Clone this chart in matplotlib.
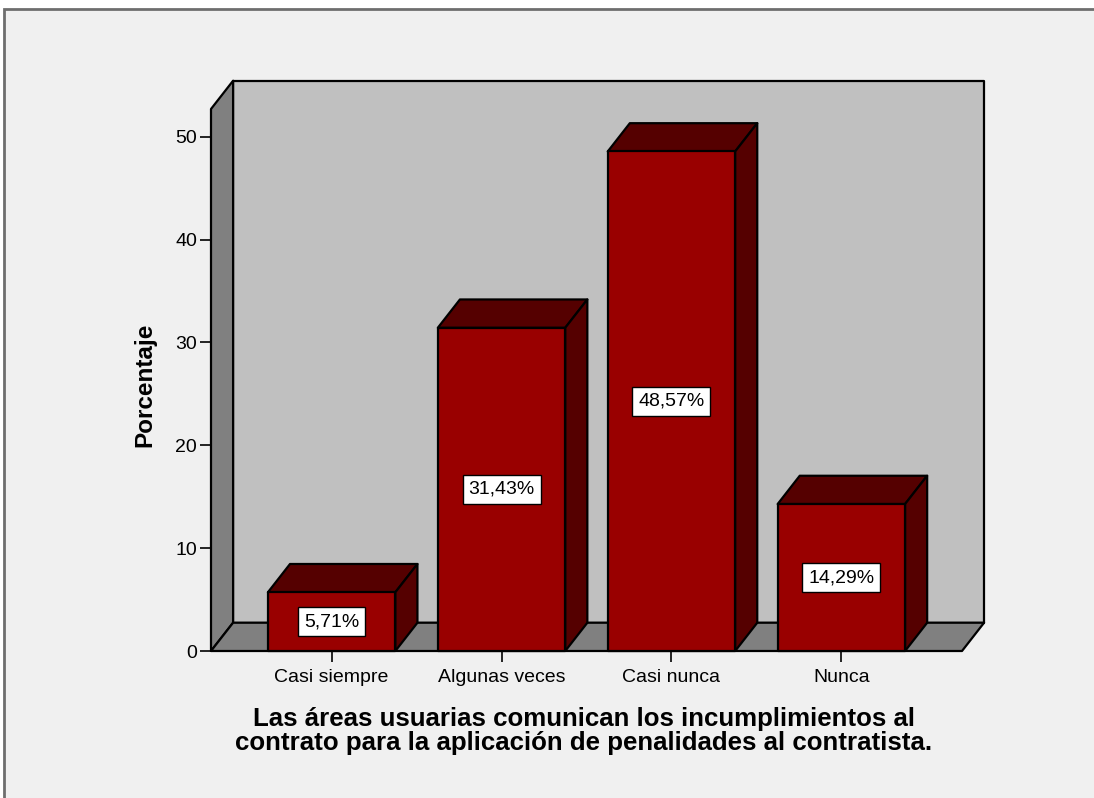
import matplotlib
matplotlib.use("Agg")
import matplotlib.pyplot as plt
from matplotlib.patches import Polygon, Rectangle

plt.rcParams['font.family'] = ['Liberation Sans', 'DejaVu Sans']

categories = ['Casi siempre', 'Algunas veces', 'Casi nunca', 'Nunca']
percent = [5.71, 31.43, 48.57, 14.29]
labels = ['5,71%', '31,43%', '48,57%', '14,29%']
yticks = [0, 10, 20, 30, 40, 50]

W, H = 1094, 798
fig = plt.figure(figsize=(W / 100, H / 100), dpi=100, facecolor='white')

# outer frame (SPSS chart area)
fig.patches.append(Rectangle((4 / W, -0.2), 1.2, 1.2 - 9 / H, transform=fig.transFigure,
                             facecolor='#f0f0f0', edgecolor='#6e6e6e', linewidth=2, zorder=-5))

ax = fig.add_axes([211 / W, 147 / H, 751 / W, 542 / H])
ax.set_facecolor('none')
x0, x1 = -0.71, 3.71
ymax = 52.7
ax.set_xlim(x0, x1)
ax.set_ylim(0, ymax)
for s in ax.spines.values():
    s.set_visible(False)

# depth of the 3D box in data units
DX = 0.13
DY = 2.75
wall = dict(edgecolor='black', linewidth=1.6, clip_on=False, joinstyle='round')

# back wall, left wall, floor
ax.add_patch(Rectangle((x0 + DX, DY), x1 - x0, ymax, facecolor='#c0c0c0', zorder=1, **wall))
ax.add_patch(Polygon([(x0, 0), (x0 + DX, DY), (x0 + DX, ymax + DY), (x0, ymax)],
                     facecolor='#808080', zorder=1, **wall))
ax.add_patch(Polygon([(x0, 0), (x1, 0), (x1 + DX, DY), (x0 + DX, DY)],
                     facecolor='#808080', zorder=1, **wall))

bw = 0.75
for i, (v, lab) in enumerate(zip(percent, labels)):
    l, r = i - bw / 2, i + bw / 2
    ax.add_patch(Polygon([(l, v), (r, v), (r + DX, v + DY), (l + DX, v + DY)],
                         facecolor='#550000', zorder=3, **wall))
    ax.add_patch(Polygon([(r, 0), (r + DX, DY), (r + DX, v + DY), (r, v)],
                         facecolor='#550000', zorder=3, **wall))
    ax.add_patch(Rectangle((l, 0), bw, v, facecolor='#990000', zorder=4, **wall))
    ax.text(i, v / 2, lab, ha='center', va='center', fontsize=14, zorder=6,
            bbox=dict(boxstyle='square,pad=0.3', facecolor='white', edgecolor='black', linewidth=1))

ax.set_yticks(yticks)
ax.set_xticks(range(len(categories)))
ax.set_xticklabels(categories)
ax.tick_params(axis='both', length=8, width=1.2, labelsize=14, colors='black')
ax.tick_params(axis='x', pad=5)
ax.tick_params(axis='y', pad=2)

fig.text(145 / W, 1 - 385 / H, 'Porcentaje', rotation=90, ha='center', va='center',
         fontsize=17.5, fontweight='bold')
fig.text(584 / W, 1 - 731 / H,
         'Las áreas usuarias comunican los incumplimientos al\ncontrato para la aplicación de penalidades al contratista.',
         ha='center', va='center', fontsize=18.6, fontweight='bold', linespacing=1.02)

fig.savefig('out.png', dpi=100, facecolor=fig.get_facecolor())
